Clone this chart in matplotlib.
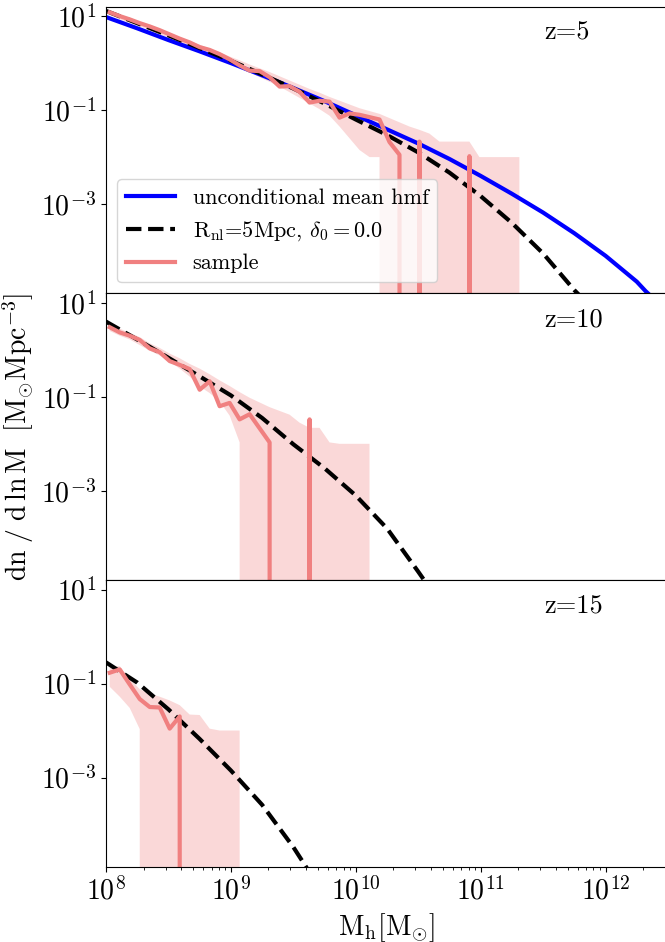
import numpy as np
import matplotlib
matplotlib.use('Agg')
import matplotlib.pyplot as plt
from matplotlib.ticker import FixedLocator, NullLocator

plt.rcParams['font.family'] = 'serif'
plt.rcParams['font.serif'] = ['cmr10']
plt.rcParams['mathtext.fontset'] = 'cm'
plt.rcParams['axes.formatter.use_mathtext'] = True

# --- curvas analiticas (log10 M, log10 dn/dlnM) ---
logm_hmf = [8.00, 8.25, 8.50, 8.75, 9.00, 9.25, 9.50, 9.75, 10.00, 10.25,
            10.50, 10.75, 11.00, 11.25, 11.50, 11.75, 12.00, 12.25, 12.32, 12.40]
hmf_z5 = [0.98, 0.74, 0.49, 0.25, 0.00, -0.26, -0.53, -0.81, -1.11, -1.41,
          -1.71, -2.04, -2.40, -2.78, -3.18, -3.62, -4.10, -4.65, -4.85, -5.05]

logm_cond_z5 = [8.00, 8.25, 8.50, 8.75, 9.00, 9.25, 9.50, 9.75, 10.00, 10.25,
                10.50, 10.75, 11.00, 11.25, 11.50, 11.75, 11.85]
cond_z5 = [1.11, 0.85, 0.59, 0.32, 0.05, -0.24, -0.54, -0.86, -1.20, -1.53,
           -1.90, -2.33, -2.83, -3.40, -4.05, -4.83, -5.10]

logm_cond_z10 = [8.00, 8.25, 8.50, 8.75, 9.00, 9.25, 9.50, 9.75, 10.00, 10.25, 10.50, 10.60]
cond_z10 = [0.60, 0.22, -0.17, -0.565, -0.97, -1.45, -2.01, -2.52, -3.10, -3.80, -4.72, -5.10]

logm_cond_z15 = [8.00, 8.25, 8.50, 8.75, 9.00, 9.25, 9.50, 9.65]
cond_z15 = [-0.55, -0.98, -1.55, -2.18, -2.85, -3.58, -4.48, -5.10]

# --- amostra: bins em log10 M (nan = bin vazio) ---
nan = np.nan
logm_bins = [8.03, 8.11, 8.19, 8.27, 8.35, 8.43, 8.51, 8.59, 8.67, 8.75,
             8.83, 8.91, 8.99, 9.07, 9.15, 9.23, 9.31, 9.39, 9.47, 9.55,
             9.63, 9.71, 9.79, 9.87, 9.95, 10.03, 10.11, 10.19, 10.27, 10.35,
             10.43, 10.51, 10.59, 10.67, 10.75, 10.83, 10.91, 10.99, 11.07, 11.15,
             11.23, 11.31, 11.39]

sample_z5 = [1.08, 1.00, 0.93, 0.85, 0.78, 0.70, 0.61, 0.52, 0.44, 0.34,
             0.28, 0.19, 0.08, -0.05, -0.16, -0.17, -0.30, -0.50, -0.49, -0.61,
             -0.84, -0.80, -0.82, -1.16, -1.07, -1.10, -1.15, -1.20, -1.68, -1.95,
             nan, -1.67, nan, nan, nan, nan, -1.98, nan, nan, nan,
             nan, nan, nan]
low_z5 = [1.02, 0.93, 0.86, 0.78, 0.70, 0.61, 0.53, 0.45, 0.36, 0.28,
          0.19, 0.10, 0.00, -0.10, -0.20, -0.30, -0.40, -0.50, -0.62, -0.74,
          -0.86, -0.98, -1.12, -1.35, -1.60, -1.85, -2.00, -2.00] + [nan] * 15
up_z5 = [1.12, 1.03, 0.95, 0.87, 0.79, 0.71, 0.63, 0.55, 0.47, 0.39,
         0.31, 0.23, 0.14, 0.06, -0.03, -0.11, -0.19, -0.28, -0.37, -0.46,
         -0.55, -0.63, -0.72, -0.80, -0.88, -0.96, -1.02, -1.08, -1.17, -1.26,
         -1.35, -1.42, -1.50, -1.67, -1.67, -1.67, -1.67, -2.00, -2.00, -2.00,
         -2.00, -2.00, nan]

sample_z10 = [0.48, 0.37, 0.30, 0.21, 0.03, -0.05, -0.24, -0.32, -0.41, -0.85,
              -0.67, -1.20, -1.13, -1.48, -1.37, -1.67, -1.97, nan, nan, nan,
              -1.48] + [nan] * 22
low_z10 = [0.40, 0.30, 0.22, 0.10, -0.02, -0.12, -0.25, -0.40, -0.57, -0.78,
           -0.92, -1.10, -1.40, -1.97] + [nan] * 29
up_z10 = [0.56, 0.45, 0.36, 0.27, 0.14, 0.04, -0.08, -0.18, -0.30, -0.40,
          -0.52, -0.65, -0.77, -0.90, -1.02, -1.12, -1.22, -1.30, -1.38, -1.55,
          -1.66, -1.66, -1.97, -2.00, -2.00, -2.00, -2.00] + [nan] * 16

sample_z15 = [-0.77, -0.70, -1.02, -1.33, -1.50, -1.51, -1.96, -1.70] + [nan] * 35
low_z15 = [-1.07, -1.28, -1.52, -1.97] + [nan] * 39
up_z15 = [-0.64, -0.63, -0.90, -1.12, -1.22, -1.28, -1.36, -1.46, -1.66, -1.67,
          -1.96, -2.00, -2.00, -2.00] + [nan] * 29

redshifts = [5, 10, 15]


def to_lin(vals):
    # bins vazios viram zero (caem para fora do eixo log)
    a = np.array(vals, dtype=float)
    return np.where(np.isnan(a), 0.0, 10.0 ** a)


mbins = 10.0 ** np.array(logm_bins)
painel = [
    (logm_cond_z5, cond_z5, sample_z5, low_z5, up_z5),
    (logm_cond_z10, cond_z10, sample_z10, low_z10, up_z10),
    (logm_cond_z15, cond_z15, sample_z15, low_z15, up_z15),
]

fig, axs = plt.subplots(3, 1, sharex=True, sharey=True, figsize=(6.65, 9.42))
fig.subplots_adjust(left=0.1594, right=1.0045, top=0.9929, bottom=0.0798, hspace=0)

for i, ax in enumerate(axs):
    lm_c, c, s, lo, up = painel[i]
    ax.fill_between(mbins, to_lin(lo), to_lin(up), color='lightcoral', alpha=0.3, lw=0)
    if i == 0:
        ax.plot(10.0 ** np.array(logm_hmf), 10.0 ** np.array(hmf_z5), color='blue', lw=3,
                label='unconditional mean hmf')
    ax.plot(10.0 ** np.array(lm_c), 10.0 ** np.array(c), 'k--', lw=3,
            label=r'R$_{\rm nl}$=5Mpc, $\delta_0 = 0.0$')
    ax.plot(mbins, to_lin(s), color='lightcoral', lw=3, label='sample')
    ax.text(0.78, 0.91, 'z=%d' % redshifts[i], transform=ax.transAxes,
            fontsize=19, va='center')
    ax.set_xscale('log')
    ax.set_yscale('log')
    ax.set_xlim(1e8, 10 ** 12.5)
    ax.set_ylim(10 ** -4.9, 10 ** 1.2)
    ax.yaxis.set_major_locator(FixedLocator([1e1, 1e-1, 1e-3]))
    ax.yaxis.set_minor_locator(NullLocator())
    ax.tick_params(labelsize=20)

axs[0].legend(loc='lower left', fontsize=16, handlelength=2.2)
axs[1].set_ylabel(r'$\rm dn\ /\ d\,ln\,M\ \ [M_{\odot}Mpc^{-3}]$', fontsize=20)
axs[2].set_xlabel(r'$\rm M_h[M_{\odot}]$', fontsize=20)

plt.savefig('out.png', dpi=100)
